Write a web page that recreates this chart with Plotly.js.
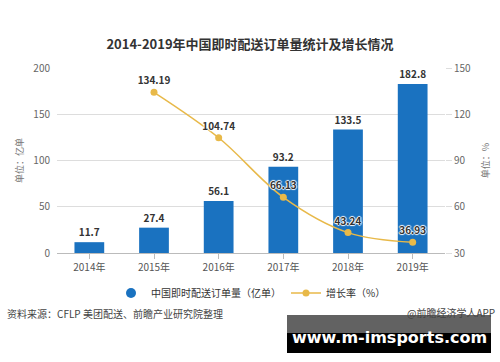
<!DOCTYPE html>
<html><head><meta charset="utf-8">
<script src="https://cdn.plot.ly/plotly-3.0.1.min.js"></script>
<style>html,body{margin:0;padding:0;background:#fff;}#c{width:500px;height:362px;}</style>
</head><body><div id="c"></div>
<script>
const years = ['2014年','2015年','2016年','2017年','2018年','2019年'];
const orders = [11.7, 27.4, 56.1, 93.2, 133.5, 182.8];
const growthYears = ['2015年','2016年','2017年','2018年','2019年'];
const growth = [134.19, 104.74, 66.13, 43.24, 36.93];
const barName = '中国即时配送订单量（亿单）';
const lineName = '增长率（%）';

const F = '"Noto Sans CJK SC", "Microsoft YaHei", sans-serif';
const blue = '#1a72c0', gold = '#e8b949';
const glow = '1px 0 1px #fff, -1px 0 1px #fff, 0 1px 1px #fff, 0 -1px 1px #fff';

const traces = [
  {type:'bar', x:years, y:orders, name:barName, marker:{color:blue}, width:0.46,
   text:orders.map(String), textposition:'outside', cliponaxis:false,
   textfont:{family:F, size:10, color:'#333', weight:'bold'}, showlegend:false, hoverinfo:'none'},
  {type:'scatter', mode:'lines+markers+text', x:growthYears, y:growth, yaxis:'y2', name:lineName,
   line:{color:gold, width:1.5, shape:'spline'}, marker:{color:gold, size:7},
   text:growth.map(v=>v.toFixed(2)), textposition:'top center', cliponaxis:false,
   textfont:{family:F, size:10, color:'#333', weight:'bold', shadow:glow}, showlegend:false, hoverinfo:'none'},
  {type:'scatter', mode:'markers', x:[null], y:[null], name:barName, marker:{color:blue, size:10, symbol:'circle'}},
  {type:'scatter', mode:'lines+markers', x:[null], y:[null], name:lineName, yaxis:'y2',
   line:{color:gold, width:1.5}, marker:{color:gold, size:7}}
];

const layout = {
  width:500, height:362,
  margin:{l:57, r:55, t:68, b:109},
  paper_bgcolor:'#fff', plot_bgcolor:'#fff',
  font:{family:F, color:'#666', size:10},
  title:{text:'<b>2014-2019年中国即时配送订单量统计及增长情况</b>', x:0.5, xanchor:'center', y:1-44/362, yanchor:'middle',
         font:{family:F, size:13, color:'#333'}},
  xaxis:{type:'category', categoryorder:'array', categoryarray:years, showgrid:false,
         showline:true, linecolor:'#bbb', ticks:'outside', ticklen:5, tickcolor:'#bbb',
         tickfont:{family:F, size:10, color:'#555'}, fixedrange:true},
  yaxis:{range:[0,200], dtick:50, showgrid:true, gridcolor:'#ddd', zeroline:true, zerolinecolor:'#bbb',
         tickfont:{family:F, size:10, color:'#666'}, ticks:'', ticklabelstandoff:6,
         title:{text:'单位：亿单', font:{family:F, size:9, color:'#777'}, standoff:8}},
  yaxis2:{range:[30,150], dtick:30, overlaying:'y', side:'right', showgrid:false, zeroline:false,
          tickfont:{family:F, size:10, color:'#666'}, ticks:'outside', ticklen:6, tickcolor:'#ddd',
          title:{text:'单位：%', font:{family:F, size:9, color:'#777'}, standoff:12}},
  legend:{orientation:'h', x:0.5, xanchor:'center', y:-(293-253)/185, yanchor:'middle',
          font:{family:F, size:10, color:'#333'}, itemwidth:30},
  showlegend:true,
  annotations:[
    {xref:'paper', yref:'paper', x:-52/388, y:-(313-253)/185, xanchor:'left', yanchor:'middle', showarrow:false,
     text:'资料来源：CFLP 美团配送、前瞻产业研究院整理', font:{family:F, size:10, color:'#444'}},
    {xref:'paper', yref:'paper', x:(497-57)/388, y:-(312-253)/185, xanchor:'right', yanchor:'middle', showarrow:false,
     text:'@前瞻经济学人APP', font:{family:F, size:10, color:'#444'}},
    {xref:'paper', yref:'paper', x:(389-57)/388, y:-(337-253)/185, xanchor:'center', yanchor:'middle', showarrow:false,
     text:'<b>www.m-imsports.com</b>', font:{family:'DejaVu Sans, sans-serif', size:16, color:'#fff'}}
  ],
  shapes:[
    {type:'rect', xref:'paper', yref:'paper', x0:(287-57)/388, x1:(491-57)/388, y0:-(333-253)/185, y1:-(315-253)/185,
     fillcolor:'rgba(70,70,70,0.85)', line:{width:0}, layer:'below'},
    {type:'rect', xref:'paper', yref:'paper', x0:(287-57)/388, x1:(491-57)/388, y0:-(353-253)/185, y1:-(333-253)/185,
     fillcolor:'#000', line:{width:0}, layer:'below'}
  ]
};
Plotly.newPlot('c', traces, layout, {displayModeBar:false, staticPlot:true});
</script></body></html>
